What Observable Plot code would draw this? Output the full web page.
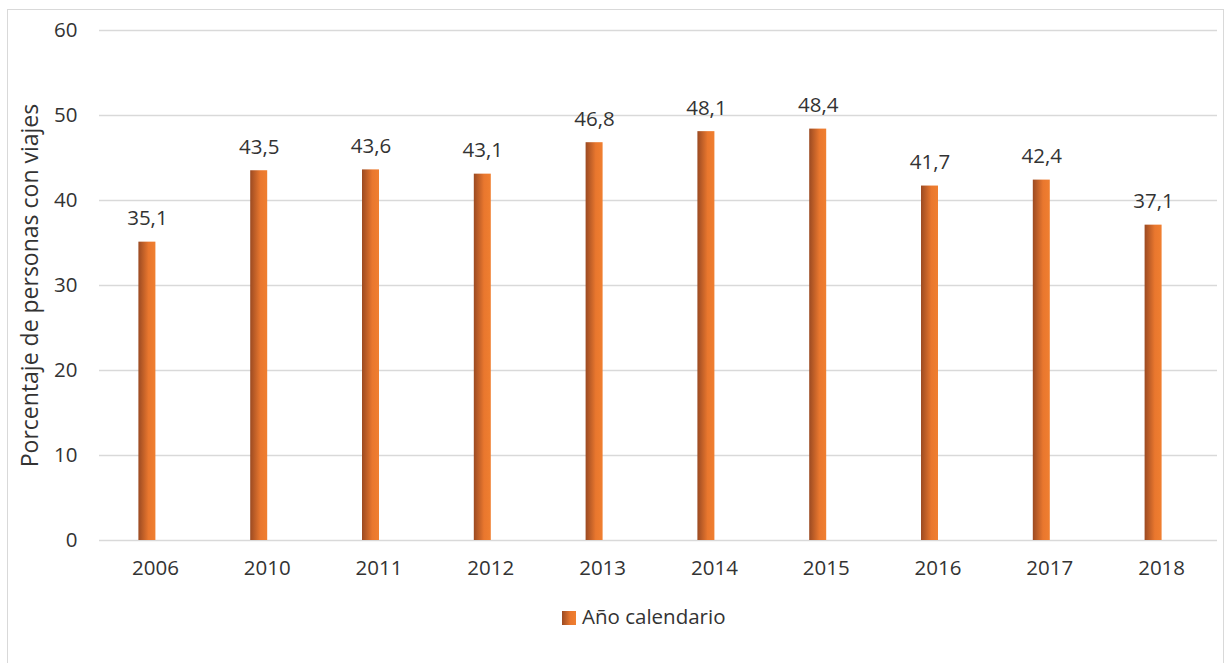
<!DOCTYPE html>
<html><head><meta charset="utf-8">
<script src="https://cdn.jsdelivr.net/npm/d3@7"></script>
<script src="https://cdn.jsdelivr.net/npm/@observablehq/plot@0.6"></script>
<style>
body{margin:0;background:#fff;font-family:"Open Sans",sans-serif;}
#wrap{position:relative;width:1226px;height:663px;overflow:hidden;}
#frame{position:absolute;left:7px;top:9px;width:1217px;height:700px;border:1px solid #d9d9d9;box-sizing:border-box;}
#chart{position:absolute;left:0;top:0;}
#legend{position:absolute;left:562px;top:602px;font-size:20.5px;color:#333;white-space:nowrap;}
#legend .sw{display:inline-block;width:14px;height:14px;background:linear-gradient(to right,#9b4a22,#e9772e 60%,#f07f30);margin-right:6px;vertical-align:-1px;}
</style></head>
<body><div id="wrap"><div id="frame"></div><div id="chart"></div>
<div id="legend"><span class="sw"></span>Año calendario</div></div>
<script>
const years = ["2006","2010","2011","2012","2013","2014","2015","2016","2017","2018"];
const values = [35.1,43.5,43.6,43.1,46.8,48.1,48.4,41.7,42.4,37.1];
const yTicks = [0,10,20,30,40,50,60];
const yLabel = "Porcentaje de personas con viajes";
const data = years.map((y,i)=>({year:y,value:values[i]}));
const fmt = v => String(v).replace(".", ",");

const defs = () => {
  const g = d3.create("svg:defs");
  const lg = g.append("linearGradient").attr("id","barGrad").attr("x1","0").attr("x2","1").attr("y1","0").attr("y2","0");
  lg.append("stop").attr("offset","0%").attr("stop-color","#9b4a22");
  lg.append("stop").attr("offset","60%").attr("stop-color","#e9772e");
  lg.append("stop").attr("offset","100%").attr("stop-color","#f07f30");
  return g.node();
};

const plot = Plot.plot({
  width: 1226,
  height: 590,
  marginLeft: 99,
  marginRight: 9,
  marginTop: 30,
  marginBottom: 50,
  style: {fontFamily: "'Open Sans', sans-serif", fontSize: "20.5px", color: "#333", background: "transparent"},
  x: {domain: years, paddingInner: 0.848, paddingOuter: 0.424, round: false, label: null},
  y: {domain: [0,60], ticks: yTicks, label: yLabel},
  marks: [
    defs,
    Plot.gridY(yTicks, {stroke: "#d9d9d9", strokeOpacity: 1, strokeWidth: 1.3}),
    Plot.barY(data, {x: "year", y: "value", fill: "url(#barGrad)", dx: -8}),
    Plot.text(data, {x: "year", y: "value", text: d => fmt(d.value), dx: -8, dy: -17, lineAnchor: "bottom", fontSize: 20.5, fill: "#333"}),
    Plot.axisX({tickSize: 0, tickPadding: 20, fontSize: 20.5, label: null}),
    Plot.axisY(yTicks, {tickSize: 0, tickPadding: 22, fontSize: 20.5, label: null}),
    Plot.axisY(yTicks, {tickSize: 0, ticks: [], text: null, label: yLabel, labelAnchor: "center", labelArrow: "none", labelOffset: 78, fontSize: 23})
  ]
});
document.getElementById("chart").appendChild(plot);
</script></body></html>
